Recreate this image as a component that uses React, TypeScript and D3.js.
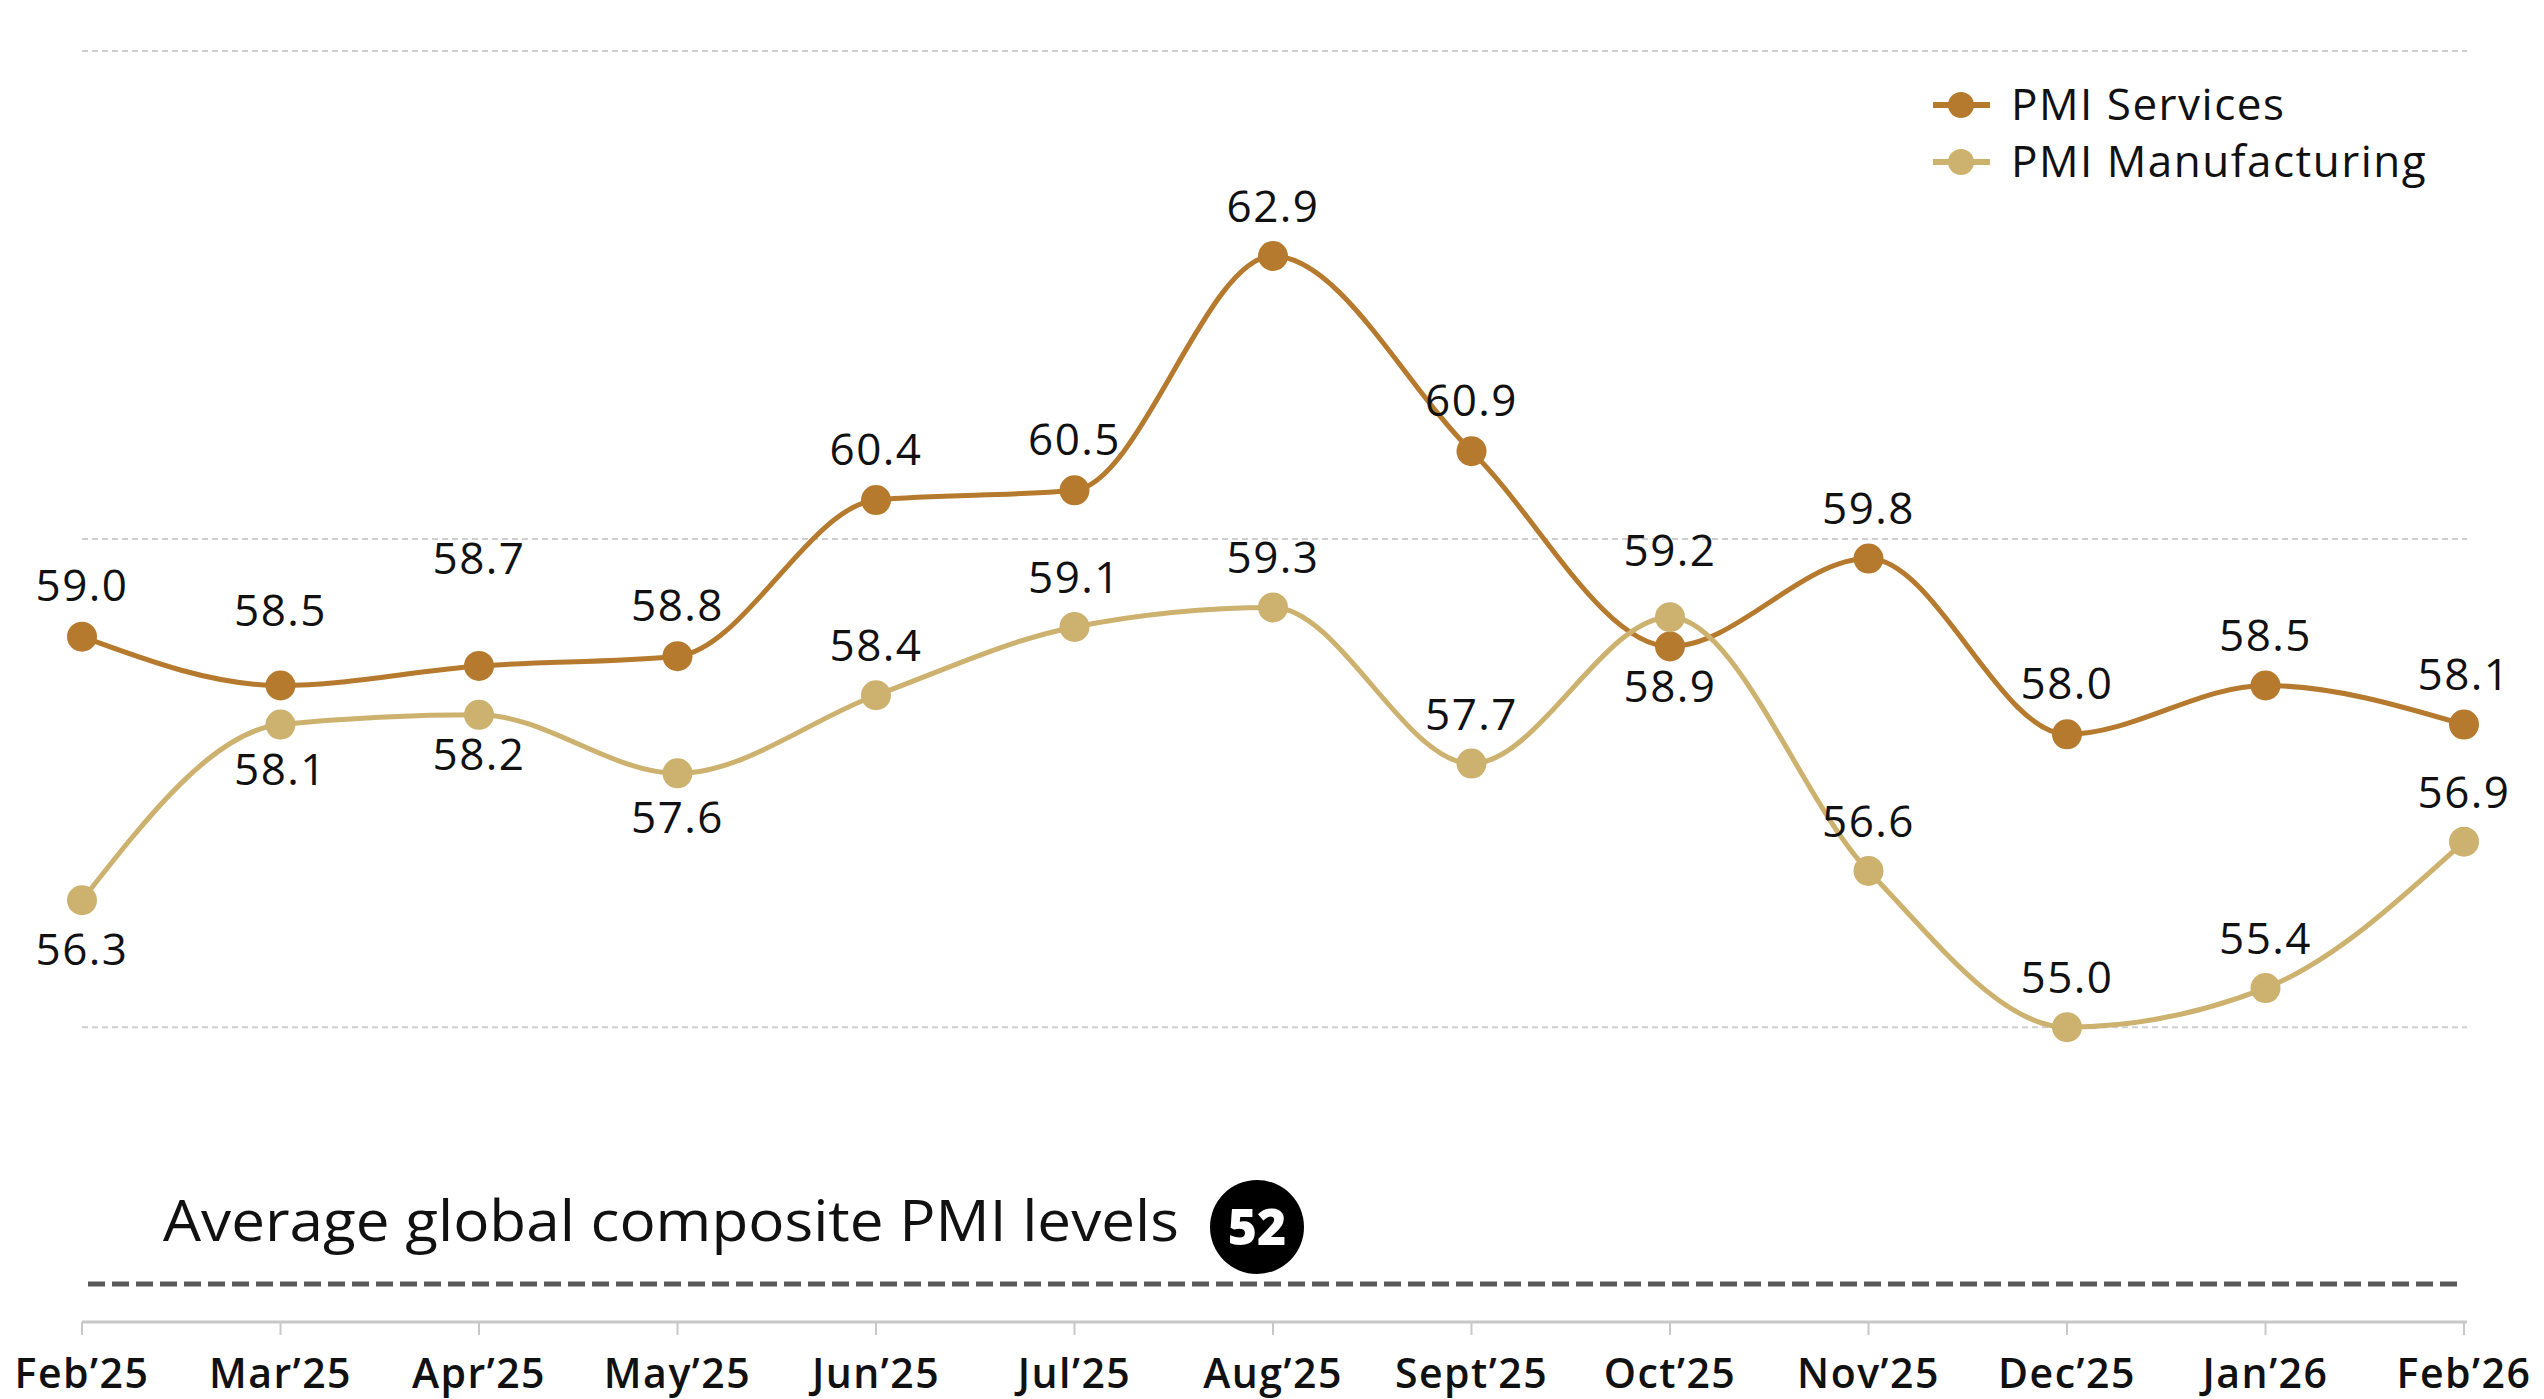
import React from "react";
import * as d3 from "d3";

const months = ["Feb’25", "Mar’25", "Apr’25", "May’25", "Jun’25", "Jul’25", "Aug’25", "Sept’25", "Oct’25", "Nov’25", "Dec’25", "Jan’26", "Feb’26"];
const services = [59.0, 58.5, 58.7, 58.8, 60.4, 60.5, 62.9, 60.9, 58.9, 59.8, 58.0, 58.5, 58.1];
const manufacturing = [56.3, 58.1, 58.2, 57.6, 58.4, 59.1, 59.3, 57.7, 59.2, 56.6, 55.0, 55.4, 56.9];
const gridValues = [55, 60, 65];
const avgLevel = 52;
const avgLabel = "Average global composite PMI levels";

// label placement (baseline offset from point centre)
const servicesLabelDy = [-36, -60, -92, -35, -35, -35, -34, -35, 56, -35, -35, -35, -35];
const manufacturingLabelDy = [65, 60, 55, 60, -34, -34, -34, -34, -51, -34, -34, -34, -34];

const W = 2544;
const H = 1399;
const C_SERV = "#B67A2E";
const C_MANU = "#CDB16E";
const FONT = "'Open Sans', sans-serif";

export default function App() {
  const x = d3.scalePoint<string>().domain(months).range([82, 2464]);
  const y = d3.scaleLinear().domain([52, 65]).range([1320, 51]);
  const line = d3
    .line<number>()
    .x((_, i) => x(months[i]) as number)
    .y((d) => y(d))
    .curve(d3.curveMonotoneX);

  const series = [
    { name: "PMI Services", values: services, color: C_SERV, dy: servicesLabelDy },
    { name: "PMI Manufacturing", values: manufacturing, color: C_MANU, dy: manufacturingLabelDy },
  ];

  const axisY = y(avgLevel);
  const avgY = axisY - 36;

  return (
    <svg width={W} height={H} style={{ position: "absolute", left: 0, top: 0, background: "#fff" }}>
      {gridValues.map((g) => (
        <line key={g} x1={82} x2={2467} y1={y(g)} y2={y(g)} stroke="#cfcfcf" strokeWidth={2} strokeDasharray="6 4" />
      ))}
      {/* x axis */}
      <line x1={82} x2={2467} y1={axisY + 2} y2={axisY + 2} stroke="#c8c8c8" strokeWidth={3} />
      {months.map((m) => (
        <g key={m}>
          <line x1={x(m)} x2={x(m)} y1={axisY + 2} y2={axisY + 15} stroke="#c8c8c8" strokeWidth={2} />
          <text x={x(m)} y={1388} textAnchor="middle" fontFamily={FONT} fontWeight={600} fontSize={41} letterSpacing={1.5} fill="#111">
            {m}
          </text>
        </g>
      ))}
      {/* average annotation */}
      <line x1={88} x2={2464} y1={avgY} y2={avgY} stroke="#595959" strokeWidth={5} strokeDasharray="17 7" />
      <text x={163} y={1241} fontFamily={FONT} fontSize={56} fill="#111" textLength={1016} lengthAdjust="spacingAndGlyphs">
        {avgLabel}
      </text>
      <circle cx={1257} cy={1227} r={47} fill="#000" />
      <text x={1257} y={1245} textAnchor="middle" fontFamily={FONT} fontWeight={800} fontSize={50} fill="#fff">
        {avgLevel}
      </text>

      {series.map((s) => (
        <path key={s.name} d={line(s.values) || ""} fill="none" stroke={s.color} strokeWidth={5} />
      ))}
      {series.map((s) =>
        s.values.map((v, i) => (
          <circle key={s.name + i} cx={x(months[i])} cy={y(v)} r={15} fill={s.color} />
        ))
      )}
      {series.map((s) =>
        s.values.map((v, i) => (
          <text
            key={"l" + s.name + i}
            x={x(months[i])}
            y={y(v) + s.dy[i]}
            textAnchor="middle"
            fontFamily={FONT}
            fontWeight={500}
            fontSize={44}
            letterSpacing={1.5}
            fill="#111"
          >
            {v.toFixed(1)}
          </text>
        ))
      )}

      {/* legend */}
      {series.map((s, i) => (
        <g key={"lg" + s.name} transform={`translate(0, ${105 + i * 57})`}>
          <line x1={1933} x2={1990} y1={0} y2={0} stroke={s.color} strokeWidth={6} />
          <circle cx={1961} cy={0} r={13} fill={s.color} />
          <text x={2011} y={15} fontFamily={FONT} fontWeight={500} fontSize={44} letterSpacing={1.5} fill="#111">
            {s.name}
          </text>
        </g>
      ))}
    </svg>
  );
}
